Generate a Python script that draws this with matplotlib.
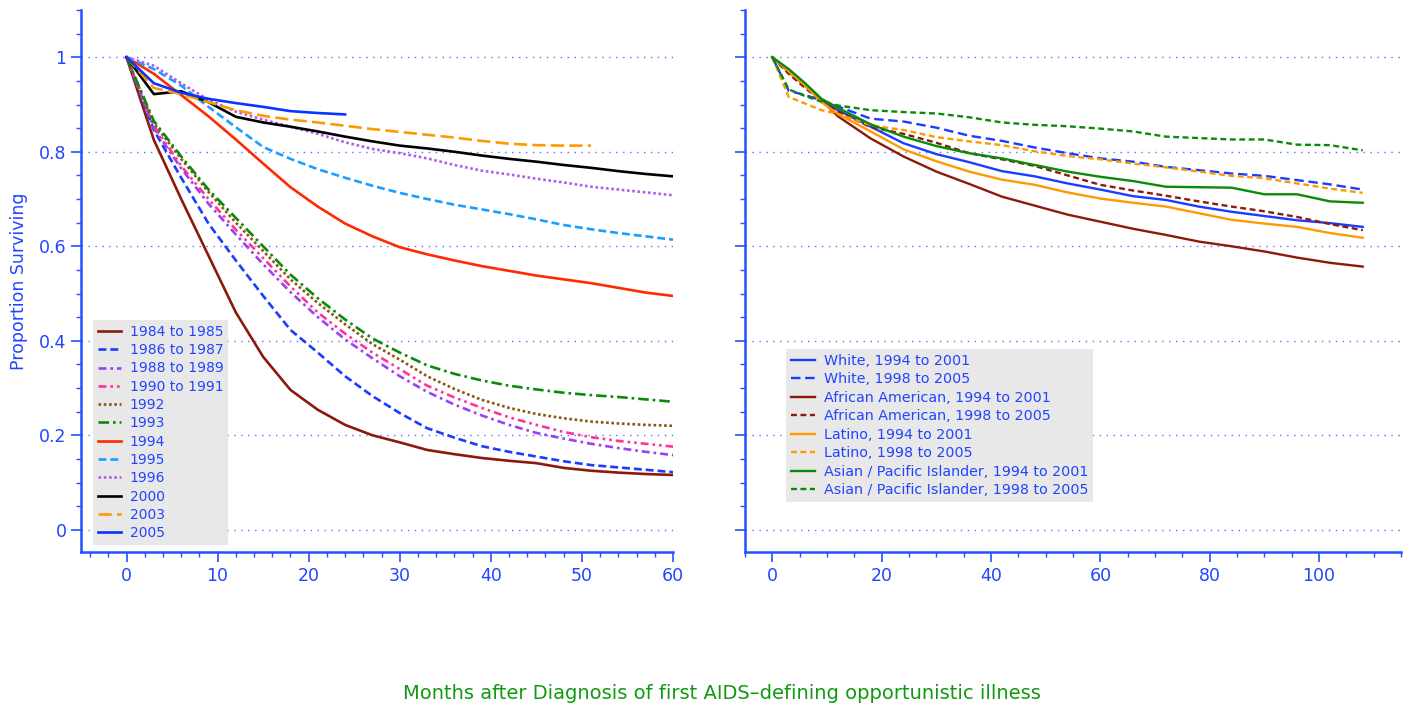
import matplotlib
matplotlib.use("Agg")
import matplotlib.pyplot as plt
from matplotlib.ticker import MultipleLocator, FixedLocator

# --- survival by year of diagnosis (months 0..60, every 3 months) ---
months_year = list(range(0, 61, 3))

surv_1984_85 = [1, 0.825, 0.70, 0.58, 0.46, 0.366, 0.296, 0.254, 0.222, 0.20, 0.185,
                0.169, 0.16, 0.152, 0.146, 0.141, 0.131, 0.125, 0.121, 0.118, 0.116]
surv_1986_87 = [1, 0.846, 0.745, 0.648, 0.57, 0.495, 0.423, 0.375, 0.325, 0.283, 0.247,
                0.215, 0.195, 0.177, 0.165, 0.155, 0.145, 0.137, 0.132, 0.127, 0.122]
surv_1988_89 = [1, 0.85, 0.765, 0.69, 0.625, 0.562, 0.503, 0.45, 0.403, 0.363, 0.325,
                0.292, 0.265, 0.242, 0.222, 0.205, 0.193, 0.182, 0.173, 0.165, 0.158]
surv_1990_91 = [1, 0.855, 0.77, 0.70, 0.635, 0.575, 0.515, 0.46, 0.415, 0.375, 0.34,
                0.305, 0.28, 0.258, 0.238, 0.222, 0.207, 0.196, 0.188, 0.182, 0.176]
surv_1992 = [1, 0.86, 0.785, 0.715, 0.65, 0.59, 0.53, 0.48, 0.435, 0.393, 0.36,
             0.325, 0.298, 0.275, 0.258, 0.245, 0.236, 0.229, 0.225, 0.222, 0.22]
surv_1993 = [1, 0.865, 0.79, 0.72, 0.66, 0.60, 0.54, 0.49, 0.445, 0.405, 0.375,
             0.348, 0.33, 0.316, 0.305, 0.297, 0.29, 0.285, 0.281, 0.276, 0.271]
surv_1994 = [1, 0.965, 0.92, 0.875, 0.826, 0.775, 0.725, 0.684, 0.648, 0.621, 0.598,
             0.583, 0.57, 0.558, 0.548, 0.538, 0.53, 0.522, 0.512, 0.502, 0.495]
surv_1995 = [1, 0.975, 0.94, 0.895, 0.852, 0.81, 0.785, 0.763, 0.745, 0.728, 0.713,
             0.70, 0.688, 0.678, 0.668, 0.657, 0.645, 0.636, 0.628, 0.621, 0.614]
surv_1996 = [1, 0.982, 0.945, 0.91, 0.885, 0.868, 0.853, 0.838, 0.82, 0.806, 0.797,
             0.786, 0.772, 0.76, 0.752, 0.743, 0.735, 0.726, 0.72, 0.714, 0.708]
surv_2000 = [1, 0.922, 0.928, 0.905, 0.874, 0.862, 0.853, 0.843, 0.832, 0.822, 0.813,
             0.807, 0.80, 0.792, 0.785, 0.779, 0.772, 0.766, 0.759, 0.753, 0.748]
surv_2003 = [1, 0.935, 0.922, 0.905, 0.888, 0.876, 0.868, 0.862, 0.855, 0.848, 0.842,
             0.836, 0.83, 0.823, 0.817, 0.814, 0.813, 0.813]
surv_2005 = [1, 0.945, 0.925, 0.912, 0.903, 0.895, 0.886, 0.882, 0.879]

year_labels = ["1984 to 1985", "1986 to 1987", "1988 to 1989", "1990 to 1991", "1992",
               "1993", "1994", "1995", "1996", "2000", "2003", "2005"]

# --- survival by race/ethnicity (months 0..108) ---
months_race = [0, 3, 6, 9, 12, 18, 24, 30, 36, 42, 48, 54, 60, 66, 72, 78, 84, 90, 96, 102, 108]

white_94_01 = [1, 0.97, 0.94, 0.909, 0.888, 0.853, 0.818, 0.795, 0.778, 0.759, 0.748,
               0.733, 0.72, 0.706, 0.698, 0.684, 0.673, 0.664, 0.655, 0.649, 0.641]
white_98_05 = [1, 0.929, 0.92, 0.909, 0.896, 0.87, 0.864, 0.851, 0.834, 0.823, 0.809,
               0.797, 0.786, 0.779, 0.768, 0.761, 0.754, 0.749, 0.74, 0.731, 0.72]
afam_94_01 = [1, 0.97, 0.94, 0.909, 0.875, 0.828, 0.79, 0.758, 0.732, 0.705, 0.686,
              0.667, 0.652, 0.637, 0.624, 0.61, 0.60, 0.589, 0.576, 0.565, 0.557]
afam_98_05 = [1, 0.965, 0.935, 0.907, 0.885, 0.852, 0.838, 0.819, 0.797, 0.784, 0.77,
              0.75, 0.73, 0.718, 0.707, 0.695, 0.684, 0.674, 0.662, 0.647, 0.634]
latino_94_01 = [1, 0.97, 0.94, 0.905, 0.88, 0.843, 0.805, 0.78, 0.758, 0.741, 0.73,
                0.714, 0.701, 0.692, 0.684, 0.67, 0.656, 0.648, 0.641, 0.628, 0.618]
latino_98_05 = [1, 0.916, 0.902, 0.888, 0.88, 0.856, 0.846, 0.831, 0.822, 0.814, 0.801,
                0.791, 0.784, 0.775, 0.767, 0.758, 0.749, 0.744, 0.733, 0.722, 0.713]
asian_94_01 = [1, 0.975, 0.945, 0.912, 0.893, 0.858, 0.832, 0.812, 0.797, 0.786, 0.772,
               0.758, 0.747, 0.738, 0.726, 0.725, 0.724, 0.71, 0.71, 0.695, 0.692]
asian_98_05 = [1, 0.932, 0.918, 0.906, 0.898, 0.888, 0.884, 0.881, 0.873, 0.862, 0.857,
               0.854, 0.849, 0.843, 0.832, 0.829, 0.826, 0.826, 0.815, 0.814, 0.803]

race_labels = ["White, 1994 to 2001", "White, 1998 to 2005",
               "African American, 1994 to 2001", "African American, 1998 to 2005",
               "Latino, 1994 to 2001", "Latino, 1998 to 2005",
               "Asian / Pacific Islander, 1994 to 2001", "Asian / Pacific Islander, 1998 to 2005"]

AXIS_BLUE = "#2250ff"
TEXT_BLUE = "#2244ff"
GRID_BLUE = "#5c6cff"

plt.rcParams["font.family"] = "DejaVu Sans"

fig = plt.figure(figsize=(14.05, 7.17), dpi=100)
ax1 = fig.add_axes([81 / 1405, 165 / 717, 592 / 1405, 542 / 717])
ax2 = fig.add_axes([745 / 1405, 165 / 717, 656 / 1405, 542 / 717])


def style_axes(ax):
    for side in ("top", "right"):
        ax.spines[side].set_visible(False)
    for side in ("left", "bottom"):
        ax.spines[side].set_color(AXIS_BLUE)
        ax.spines[side].set_linewidth(1.8)
    ax.set_ylim(-0.047, 1.1)
    ax.yaxis.set_major_locator(FixedLocator([0, 0.2, 0.4, 0.6, 0.8, 1]))
    ax.yaxis.set_minor_locator(MultipleLocator(0.05))
    ax.tick_params(which="major", direction="out", length=7, width=1.2, colors=AXIS_BLUE,
                   labelcolor=TEXT_BLUE, labelsize=12.5)
    ax.tick_params(which="minor", direction="out", length=3.5, width=1.0, colors=AXIS_BLUE)
    for yv in [0, 0.2, 0.4, 0.6, 0.8, 1]:
        ax.axhline(yv, color=GRID_BLUE, lw=1.0, ls=(0, (1, 4)), zorder=0)


def boxed_legend(ax, anchor, size):
    leg = ax.legend(loc="lower left", bbox_to_anchor=anchor, borderaxespad=0,
                    frameon=True, fancybox=False, facecolor="#e8e8e8", edgecolor="none",
                    framealpha=1, fontsize=size, handlelength=1.65, labelspacing=0.31,
                    borderpad=0.35, handletextpad=0.65)
    for t in leg.get_texts():
        t.set_color(TEXT_BLUE)
    return leg


# left panel: year of diagnosis
style_axes(ax1)
year_series = [surv_1984_85, surv_1986_87, surv_1988_89, surv_1990_91, surv_1992, surv_1993,
               surv_1994, surv_1995, surv_1996, surv_2000, surv_2003, surv_2005]
year_colors = ["#8c1a0a", "#1a3cff", "#9b40f5", "#ff3399", "#8b5513", "#0a8a0a",
               "#ff2a00", "#1a9fff", "#b05cf0", "#000000", "#ff9900", "#0a33ff"]
year_styles = ["-", (0, (3, 1.5)), (0, (3, 1.5, 1, 1.5)), (0, (3, 1.5, 1, 1.5, 1, 1.5)),
               (0, (1, 1)), (0, (4, 1.5, 1, 1.5)), "-", (0, (3, 1.5)), (0, (1, 1)),
               "-", (0, (5, 2)), "-"]
for vals, lab, col, ls in zip(year_series, year_labels, year_colors, year_styles):
    ax1.plot(months_year[:len(vals)], vals, color=col, ls=ls, lw=1.9, label=lab)
ax1.set_xlim(-5, 60)
ax1.xaxis.set_major_locator(MultipleLocator(10))
ax1.xaxis.set_minor_locator(MultipleLocator(2))
ax1.set_yticklabels(["0", "0.2", "0.4", "0.6", "0.8", "1"])
ax1.set_ylabel("Proportion Surviving", color=TEXT_BLUE, fontsize=12.5, labelpad=8)
boxed_legend(ax1, (12 / 592, 7 / 542), 10)

# right panel: race / ethnicity
style_axes(ax2)
race_series = [white_94_01, white_98_05, afam_94_01, afam_98_05,
               latino_94_01, latino_98_05, asian_94_01, asian_98_05]
race_colors = ["#1a3cff", "#1a3cff", "#8c1a0a", "#8c1a0a",
               "#ff9900", "#ff9900", "#0a8a0a", "#0a8a0a"]
race_styles = ["-", (0, (4, 2)), "-", (0, (2.5, 1.5)), "-", (0, (2.5, 1.5)), "-", (0, (2.5, 1.5))]
for vals, lab, col, ls in zip(race_series, race_labels, race_colors, race_styles):
    ax2.plot(months_race, vals, color=col, ls=ls, lw=1.7, label=lab)
ax2.set_xlim(-5, 115)
ax2.xaxis.set_major_locator(FixedLocator([0, 20, 40, 60, 80, 100]))
ax2.xaxis.set_minor_locator(MultipleLocator(5))
ax2.set_yticklabels([])
boxed_legend(ax2, (41 / 656, 50 / 542), 10.3)

fig.text(0.514, 0.019, "Months after Diagnosis of first AIDS\u2013defining opportunistic illness",
         ha="center", va="bottom", color="#119911", fontsize=14)

fig.savefig("out.png", dpi=100)
